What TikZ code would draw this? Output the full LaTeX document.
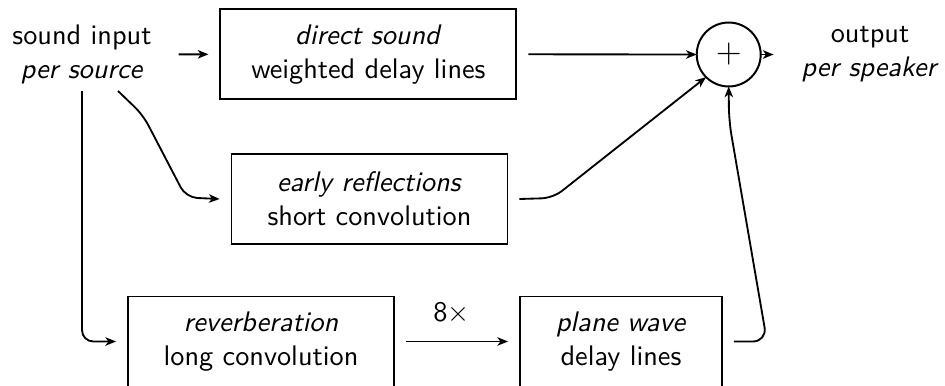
\documentclass[tikz,border=0pt]{standalone}
\usetikzlibrary{arrows.meta}
\begin{document}
\begin{tikzpicture}[
    x=0.3534pt, y=-0.3534pt,
    font=\sffamily,
    every path/.style={line width=0.65pt},
    >={Stealth[length=3.8pt,width=3pt,inset=1.1pt]},
    procbox/.style={draw, line width=0.65pt, align=center, inner sep=0pt,
                    minimum height=31.8pt, outer sep=4.2pt},
    label text/.style={align=center, inner sep=0pt},
    sumnode/.style={draw, circle, line width=0.7pt, minimum size=22.6pt,
                    inner sep=0pt, outer sep=0pt},
    wire/.style={rounded corners=4pt}
  ]
  \useasboundingbox (0,0) rectangle (945,386);

  % source and sink texts
  \node[label text] (input)  at (82,54.5)  {sound input\\\textit{per source}};
  \node[label text] (output) at (870,54.5) {output\\\textit{per speaker}};

  % processing blocks
  \node[procbox, minimum width=104.6pt] (direct) at (368.4,54.3)
       {\textit{direct sound}\\weighted delay lines};
  \node[procbox, minimum width=97.5pt] (early) at (369.5,199)
       {\textit{early reflections}\\short convolution};
  \node[procbox, minimum width=94pt] (reverb) at (261,341.5)
       {\textit{reverberation}\\long convolution};
  \node[procbox, minimum width=71.4pt] (plane) at (621,341.5)
       {\textit{plane wave}\\delay lines};

  % summation
  \node[sumnode, font=\fontsize{11.5}{13}\selectfont] (sum) at (728.7,54.5) {$+$};

  % branch points below the input text
  \coordinate (tapA) at (82,91);
  \coordinate (tapB) at (118,91);

  % connections
  \draw[->, shorten <=9.2pt] (input.east) -- (direct.west);
  \draw[->] (direct.east) -- (sum.west);
  \draw[->, wire] (tapB) -- (143,115) -- (186,197.5) -- (early.west);
  \draw[->, wire] (tapA) -- (82,341.5) -- (reverb.west);
  \draw[->] (reverb.east) -- node[above=6pt, inner sep=0pt, xshift=-2pt] {8$\times$} (plane.west);
  \draw[->, wire] (early.east) -- (553,198) -- (sum.south west);
  \draw[->, rounded corners=5pt] (plane.east) -- (767,341.5) -- (729,121) -- (sum.south);
  \draw[->, shorten >=9.5pt] (sum.east) -- (output.west);
\end{tikzpicture}
\end{document}
